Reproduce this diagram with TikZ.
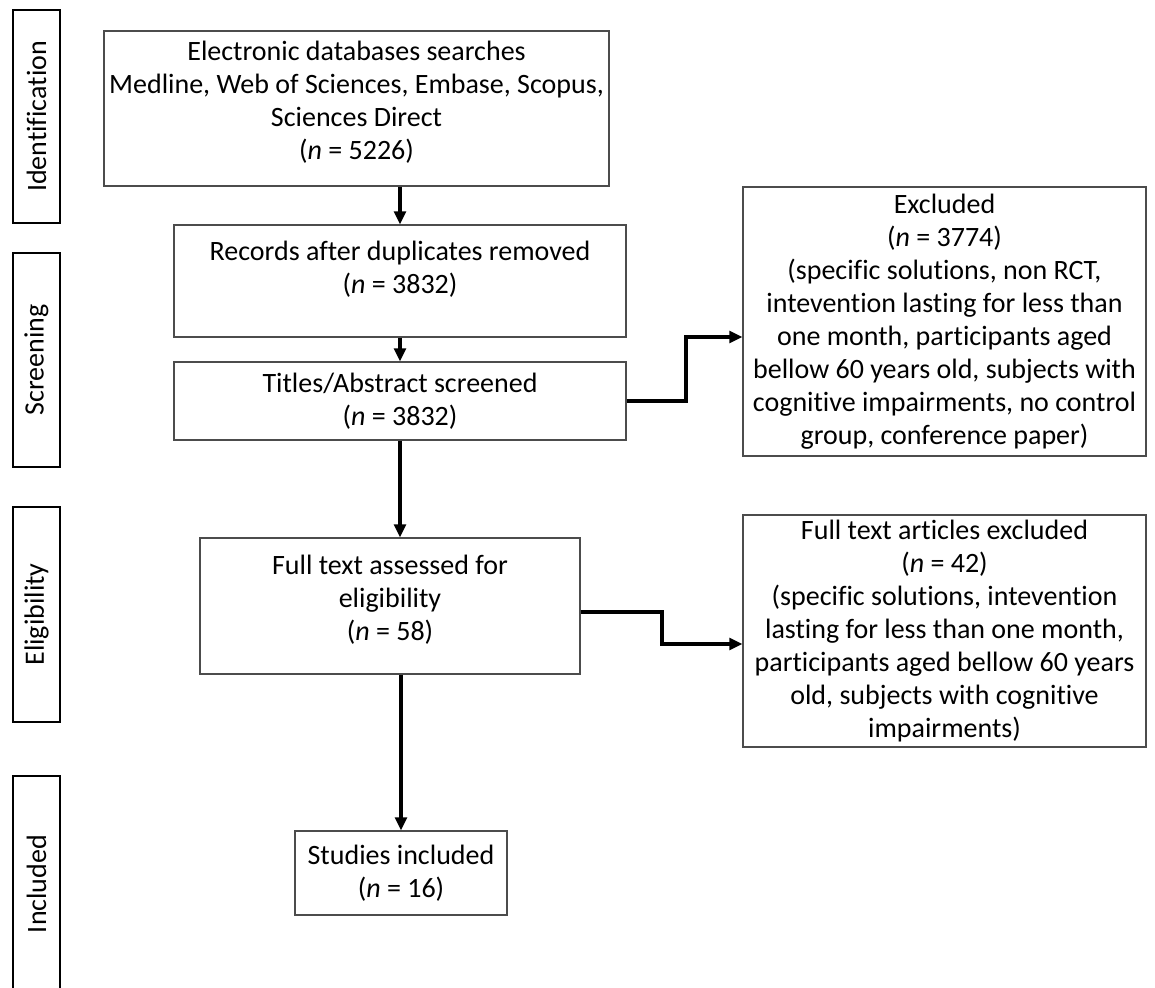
\documentclass[tikz,border=0pt]{standalone}
\usepackage{fontspec}
\setmainfont{Carlito}[Ligatures=NoCommon]
\usetikzlibrary{arrows.meta,calc}

\begin{document}
\begin{tikzpicture}[x=.5pt,y=-.5pt,
 txt/.style={align=center,inner sep=0pt,font=\fontsize{14}{16.5}\selectfont},
 frame/.style={draw=black!70,line width=.6pt,inner sep=0pt},
 box/.style={frame,txt},
 stage/.style={draw,line width=1.4pt,rotate=90,inner sep=0pt,minimum height=23.5pt,font=\fontsize{14}{16.5}\selectfont},
 arr/.style={line width=2pt,-{Triangle[length=6.5pt,width=5.8pt]}}]
 \useasboundingbox (0,0) rectangle (1155,988);
 % stages
 \node[stage,minimum width=106.5pt] (ident) at (36.5,116.5) {Identification};
 \node[stage,minimum width=107pt] (screen) at (36.5,360) {Screening};
 \node[stage,minimum width=107.5pt] (elig) at (36.5,614.5) {Eligibility};
 \node[stage,minimum width=108pt] (incl) at (36.5,884) {Included};
 % main column
 \node[frame,minimum width=252.5pt,minimum height=77.5pt] (db) at (356.5,108.5) {};
 \node[txt] (dbtext) at (356.5,102)
  {Electronic databases searches\\Medline, Web of Sciences, Embase, Scopus,\\Sciences Direct\\(\textit{n} = 5226)};
 \node[frame,minimum width=226pt,minimum height=56pt] (dup) at (400,281) {};
 \node[txt] (duptext) at (400,269) {Records after duplicates removed\\(\textit{n} = 3832)};
 \node[box,minimum width=226pt,minimum height=39pt] (title) at (400,401)
  {Titles/Abstract screened\\(\textit{n} = 3832)};
 \node[frame,minimum width=190pt,minimum height=68pt] (full) at (390,606) {};
 \node[txt] (fulltext) at (390,600) {Full text assessed for\\eligibility\\(\textit{n} = 58)};
 \node[box,minimum width=106pt,minimum height=42pt] (study) at (401,873)
  {Studies included\\(\textit{n} = 16)};
 % exclusions
 \node[box,minimum width=201.5pt,minimum height=134.5pt] (exc1) at (944.5,321.5)
  {Excluded\\(\textit{n} = 3774)\\(specific solutions, non RCT,\\intevention lasting for less than\\one month, participants aged\\bellow 60 years old, subjects with\\cognitive impairments, no control\\group, conference paper)};
 \node[box,minimum width=201.5pt,minimum height=116pt] (exc2) at (944.5,631)
  {Full text articles excluded\\(\textit{n} = 42)\\(specific solutions, intevention\\lasting for less than one month,\\participants aged bellow 60 years\\old, subjects with cognitive\\impairments)};
 \coordinate (k1) at (686,337);
 \coordinate (k2) at (662,612);
 \coordinate (k3) at (662,644);
 % arrows
 \draw[arr] (dup.north |- db.south) -- (dup.north);
 \draw[arr] (dup.south) -- (title.north);
 \draw[arr] (title.south) -- (title.south |- full.north);
 \draw[arr] (study.north |- full.south) -- (study.north);
 \draw[arr] (title.east) -| (k1) -- (k1 -| exc1.west);
 \draw[arr] (k2 -| full.east) -- (k2) -- (k3) -- (k3 -| exc2.west);
\end{tikzpicture}
\end{document}
